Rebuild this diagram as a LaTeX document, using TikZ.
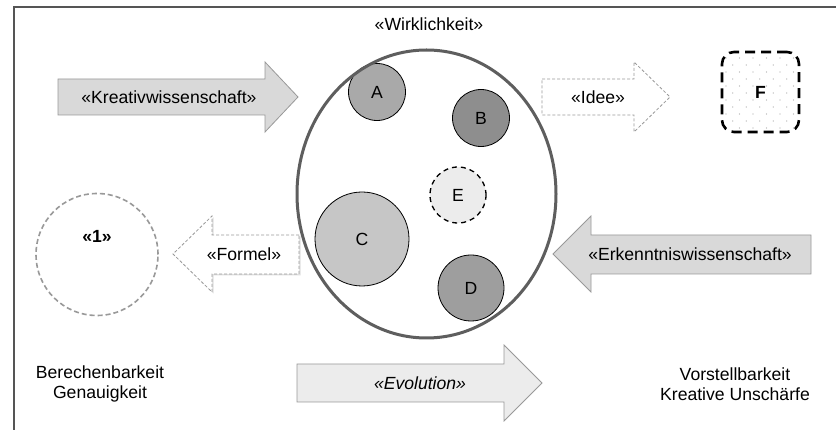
\documentclass[tikz,border=0pt]{standalone}
\usepackage{fontspec}
\setmainfont{Liberation Sans}
\usepackage{tikz}
\usetikzlibrary{shapes.geometric,shadows}

\definecolor{frameline}{HTML}{555555}
\definecolor{arrowline}{HTML}{999999}
\definecolor{arrowfill}{HTML}{D9D9D9}
\definecolor{evofill}{HTML}{ECECEC}
\definecolor{ballA}{HTML}{A9A9A9}
\definecolor{ballB}{HTML}{8E8E8E}
\definecolor{ballC}{HTML}{C6C6C6}
\definecolor{ballD}{HTML}{9E9E9E}
\definecolor{ballE}{HTML}{ECECEC}
\definecolor{wirkline}{HTML}{5E5E5E}

\begin{document}
\begin{tikzpicture}[x=1pt,y=-1pt,
    every node/.style={font=\fontsize{17.6}{19.5}\selectfont},
    bigarrow/.style={draw=arrowline, line width=0.8pt, line join=miter},
    ball/.style={circle, draw=black, line width=0.8pt, inner sep=0pt},
    label/.style={inner sep=1pt}]
\useasboundingbox (0,0) rectangle (836,430);
\fill[white] (0,0) rectangle (836,430);
% frame
\draw[frameline, line width=1.3pt] (14,430) -- (14,7) -- (836,7);

% arrows
\draw[bigarrow, fill=arrowfill] (58,79) -- (265,79) -- (265,62) -- (298,97) -- (265,132) -- (265,115) -- (58,115) -- cycle;
\node[label] (kreativ) at (169,97) {«Kreativwissenschaft»};
\draw[bigarrow, fill=white, dash pattern=on 3pt off 2pt] (542,79) -- (634,79) -- (634,62) -- (670,97) -- (634,132) -- (634,115) -- (542,115) -- cycle;
\node[label] (idee) at (598,97) {«Idee»};
\draw[bigarrow, fill=white, dash pattern=on 3pt off 2pt,
      drop shadow={opacity=0.25, shadow xshift=1.5pt, shadow yshift=-1.5pt}]
  (299,235) -- (212,235) -- (212,216) -- (173,254) -- (212,292) -- (212,274) -- (299,274) -- cycle;
\node[label] (formel) at (244,254) {«Formel»};
\draw[bigarrow, fill=arrowfill] (811,235) -- (591,235) -- (591,216) -- (553,254) -- (591,292) -- (591,274) -- (811,274) -- cycle;
\node[label] (erkenntnis) at (690,254) {«Erkenntniswissenschaft»};
\draw[bigarrow, fill=evofill] (297,364) -- (504,364) -- (504,345) -- (542,383) -- (504,421) -- (504,402) -- (297,402) -- cycle;
\node[label] (evolution) at (420,383) {\itshape «Evolution»};

% Wirklichkeit
\node (wirklabel) at (429,24) {«Wirklichkeit»};
\node[ball, fill=ballA, minimum size=57pt] (A) at (377,92) {A};
\node[ball, fill=ballB, minimum size=57pt] (B) at (481,118) {B};
\node[ball, fill=ballE, draw=black, dash pattern=on 5pt off 4pt, line width=1.3pt, minimum size=56pt] (E) at (458,195) {E};
\node[ball, fill=ballC, minimum size=94pt] (C) at (362,239) {C};
\node[ball, fill=ballD, minimum size=66pt] (D) at (471,288) {D};
\node[ellipse, draw=wirkline, line width=3pt, minimum width=259pt, minimum height=288pt, inner sep=0pt] (wirk) at (426.5,194) {};

% die Eins
\node[circle, draw=arrowline, dash pattern=on 5pt off 3pt, line width=1.6pt, minimum size=122pt, inner sep=0pt] (eins) at (97,254.5) {};
\node (einslabel) at (97,236) {\bfseries «1»};

% F
\begin{scope}
  \clip[rounded corners=12pt] (722,52) rectangle (799,132);
  \foreach \i in {0,...,5}
    \foreach \j in {0,...,5} {
      \fill[gray!70] (726+13.5*\i,58+14*\j) circle (0.65pt);
      \fill[gray!70] (732.75+13.5*\i,65+14*\j) circle (0.65pt);
    }
\end{scope}
\node[draw=black, rounded corners=12pt, dash pattern=on 10pt off 6pt, line width=2.6pt, minimum width=77pt, minimum height=80pt] (F) at (760.5,92) {\bfseries F};

% Pole
\node[align=center] (berechen) at (100,384) {Berechenbarkeit\\Genauigkeit};
\node[align=center] (vorstell) at (735,384) {Vorstellbarkeit\\Kreative Unschärfe};
\end{tikzpicture}
\end{document}
